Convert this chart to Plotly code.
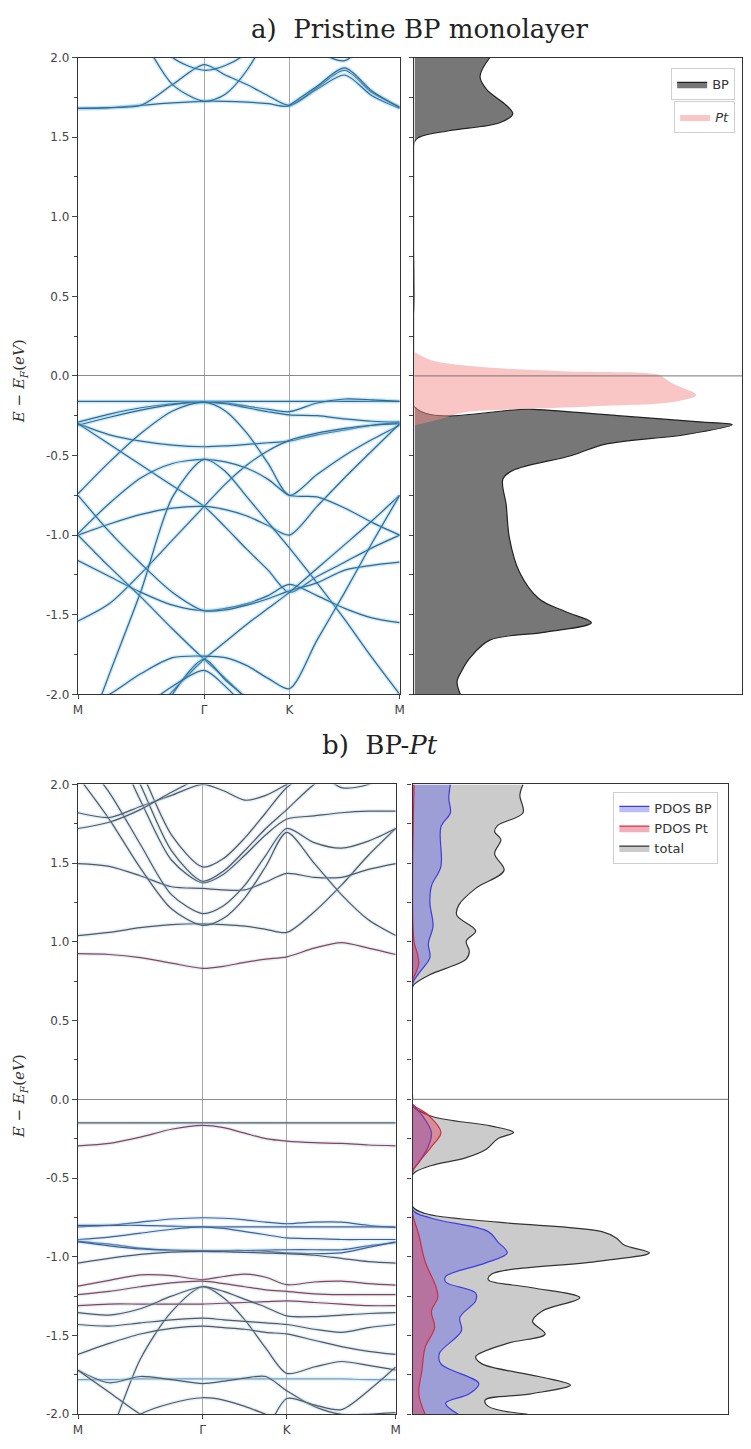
import plotly.graph_objects as go

W, H = 751, 1449

# ---------------- data ----------------
KPTS = [0.0, 0.098, 0.196, 0.294, 0.392, 0.458, 0.525, 0.591, 0.657, 0.743, 0.829, 0.914, 1.0]
K_TICKS = [0.0, 0.392, 0.657, 1.0]
K_LABELS = ["M", "Γ", "K", "M"]
E_TICKS = [2.0, 1.5, 1.0, 0.5, 0.0, -0.5, -1.0, -1.5, -2.0]
E_LABELS = ["2.0", "1.5", "1.0", "0.5", "0.0", "-0.5", "-1.0", "-1.5", "-2.0"]
E_MINOR = [1.75, 1.25, 0.75, 0.25, -0.25, -0.75, -1.25, -1.75]
E_DOS_TICKS = [2.0, 1.75, 1.5, 1.25, 1.0, 0.75, 0.5, 0.25, 0.0, -0.25, -0.5, -0.75, -1.0, -1.25, -1.5, -1.75, -2.0]

N = None
# panel a) pristine BP : conduction bands
BANDS_A_COND = [
    [1.68, 1.685, 1.70, 1.715, 1.725, 1.725, 1.72, 1.71, 1.695, 1.80, 1.89, 1.76, 1.68],
    [1.68, 1.685, 1.70, 1.83, 1.955, 1.89, 1.83, 1.76, 1.70, 1.81, 1.92, 1.78, 1.69],
    [2.6, 2.5, 2.14, 1.83, 1.725, 1.77, 1.92, 2.16, 2.5, 2.6, 2.6, 2.6, 2.6],
    [2.6, 2.5, 2.3, 2.0, 1.92, 1.95, 2.03, 2.2, 2.4, 2.5, 2.5, 2.5, 2.5],
    [N, N, N, N, N, N, N, N, 1.70, 1.82, 1.935, 1.79, 1.685],
    [N, N, N, N, N, N, N, N, 2.3, 2.05, 1.98, 2.15, 2.4],
]
# panel a) pristine BP : valence bands
BANDS_A_VAL = [
    [-0.16, -0.16, -0.16, -0.16, -0.16, -0.16, -0.16, -0.16, -0.16, -0.16, -0.16, -0.16, -0.16],
    [-0.29, -0.24, -0.20, -0.175, -0.165, -0.17, -0.19, -0.21, -0.225, -0.17, -0.145, -0.15, -0.16],
    [-0.31, -0.26, -0.215, -0.18, -0.165, -0.175, -0.20, -0.225, -0.245, -0.25, -0.27, -0.285, -0.29],
    [-0.30, -0.37, -0.41, -0.435, -0.445, -0.44, -0.43, -0.42, -0.41, -0.37, -0.34, -0.31, -0.29],
    [-0.74, -0.54, -0.36, -0.22, -0.165, -0.22, -0.36, -0.55, -0.75, -0.62, -0.50, -0.40, -0.31],
    [-0.30, -0.43, -0.56, -0.69, -0.82, -0.95, -1.09, -1.22, -1.36, -1.26, -1.17, -1.08, -1.0],
    [-1.54, -1.43, -1.24, -1.03, -0.82, -0.68, -0.56, -0.47, -0.405, -0.36, -0.33, -0.31, -0.30],
    [-1.0, -0.93, -0.87, -0.83, -0.82, -0.84, -0.88, -0.94, -1.0, -0.82, -0.64, -0.47, -0.30],
    [-0.99, -0.80, -0.64, -0.55, -0.524, -0.54, -0.58, -0.65, -0.75, -0.76, -0.83, -0.92, -1.0],
    [-2.4, -1.87, -1.35, -0.76, -0.524, -0.60, -0.76, -0.92, -1.08, -1.30, -1.53, -1.77, -2.0],
    [-1.16, -1.26, -1.36, -1.44, -1.475, -1.46, -1.43, -1.38, -1.31, -1.38, -1.46, -1.52, -1.55],
    [-0.75, -0.98, -1.18, -1.36, -1.475, -1.47, -1.44, -1.40, -1.35, -1.30, -1.22, -1.19, -1.17],
    [-1.0, -1.2, -1.39, -1.59, -1.78, -1.90, -2.03, -2.16, -2.3, -2.4, -2.5, -2.5, -2.5],
    [-2.6, -2.4, -2.2, -1.98, -1.78, -1.67, -1.56, -1.46, -1.36, -1.21, -1.06, -0.91, -0.75],
    [-2.1, -2.0, -1.87, -1.77, -1.76, -1.77, -1.82, -1.90, -1.965, -1.66, -1.36, -1.05, -0.75],
    [-3.0, -2.7, -2.45, -2.0, -1.78, -1.91, -2.03, -2.2, -2.4, -2.5, -2.5, -2.5, -2.5],
    [-2.5, -2.3, -2.1, -1.95, -1.85, -1.95, -2.1, -2.3, -2.5, -2.6, -2.3, -2.1, -2.0],
]
# panel b) BP-Pt : conduction bands
BANDS_B_COND = [
    [0.925, 0.92, 0.90, 0.865, 0.832, 0.845, 0.87, 0.89, 0.905, 0.96, 0.995, 0.96, 0.92],
    [1.04, 1.06, 1.09, 1.11, 1.115, 1.11, 1.10, 1.08, 1.06, 1.19, 1.36, 1.55, 1.72],
    [1.497, 1.48, 1.42, 1.35, 1.34, 1.33, 1.33, 1.38, 1.435, 1.41, 1.41, 1.46, 1.497],
    [2.05, 1.78, 1.47, 1.21, 1.105, 1.15, 1.28, 1.48, 1.695, 1.50, 1.30, 1.14, 1.04],
    [2.2, 1.95, 1.62, 1.30, 1.18, 1.23, 1.36, 1.55, 1.72, 1.63, 1.595, 1.64, 1.72],
    [2.5, 2.3, 1.9, 1.52, 1.375, 1.43, 1.55, 1.68, 1.78, 1.80, 1.82, 1.83, 1.83],
    [2.6, 2.4, 2.0, 1.58, 1.385, 1.45, 1.58, 1.72, 1.84, 2.0, 2.1, 2.2, 2.2],
    [2.7, 2.5, 2.1, 1.68, 1.476, 1.53, 1.66, 1.82, 1.98, 2.1, 2.2, 2.2, 2.2],
    [1.82, 1.79, 1.86, 1.93, 2.0, 1.96, 1.90, 1.93, 2.0, 2.1, 2.1, 2.1, 2.1],
    [1.72, 1.76, 1.84, 1.95, 2.05, 2.1, 2.1, 2.1, 2.2, 2.1, 1.98, 2.0, 2.1],
]
# panel b) BP-Pt : valence bands
BANDS_B_VAL = [
    [-0.15, -0.15, -0.15, -0.15, -0.15, -0.15, -0.15, -0.15, -0.15, -0.15, -0.15, -0.15, -0.15],
    [-0.295, -0.28, -0.24, -0.19, -0.165, -0.18, -0.215, -0.25, -0.265, -0.275, -0.28, -0.29, -0.295],
    [-0.81, -0.80, -0.78, -0.76, -0.752, -0.755, -0.765, -0.78, -0.79, -0.78, -0.78, -0.80, -0.815],
    [-0.80, -0.80, -0.80, -0.805, -0.81, -0.81, -0.81, -0.81, -0.81, -0.81, -0.81, -0.81, -0.81],
    [-0.89, -0.875, -0.85, -0.825, -0.81, -0.82, -0.84, -0.86, -0.88, -0.885, -0.89, -0.89, -0.89],
    [-0.90, -0.92, -0.945, -0.96, -0.966, -0.965, -0.96, -0.957, -0.955, -0.955, -0.955, -0.93, -0.91],
    [-0.905, -0.93, -0.95, -0.958, -0.96, -0.96, -0.96, -0.965, -0.975, -0.98, -0.975, -0.94, -0.905],
    [-1.04, -1.01, -0.985, -0.97, -0.965, -0.968, -0.972, -0.976, -0.98, -0.99, -1.01, -1.03, -1.04],
    [-1.186, -1.15, -1.115, -1.12, -1.145, -1.125, -1.11, -1.13, -1.177, -1.16, -1.155, -1.17, -1.18],
    [-1.24, -1.22, -1.19, -1.165, -1.155, -1.17, -1.19, -1.21, -1.22, -1.235, -1.24, -1.24, -1.24],
    [-2.6, -2.15, -1.65, -1.35, -1.19, -1.26, -1.40, -1.58, -1.74, -1.70, -1.665, -1.69, -1.72],
    [-1.31, -1.30, -1.30, -1.30, -1.30, -1.295, -1.29, -1.285, -1.28, -1.29, -1.30, -1.31, -1.31],
    [-1.355, -1.37, -1.33, -1.25, -1.19, -1.22, -1.27, -1.32, -1.375, -1.38, -1.37, -1.36, -1.355],
    [-1.43, -1.44, -1.42, -1.40, -1.39, -1.40, -1.41, -1.42, -1.43, -1.46, -1.48, -1.45, -1.43],
    [-1.62, -1.55, -1.49, -1.455, -1.44, -1.45, -1.46, -1.48, -1.49, -1.53, -1.57, -1.60, -1.62],
    [-1.78, -1.78, -1.775, -1.775, -1.775, -1.775, -1.775, -1.775, -1.775, -1.775, -1.775, -1.78, -1.78],
    [-1.72, -1.80, -1.76, -1.78, -1.805, -1.79, -1.77, -1.76, -1.85, -1.95, -2.0, -2.0, -1.99],
    [-1.72, -1.86, -2.0, -2.1, -2.2, -2.2, -2.2, -2.1, -1.90, -1.94, -1.97, -1.85, -1.70],
    [-2.3, -2.15, -2.0, -1.93, -1.895, -1.91, -1.95, -2.0, -2.05, -2.1, -2.1, -2.05, -2.0],
]
# colour tag per panel-b band (g = grey, r = Pt-like, b = BP-like)
TAGS_B_COND = ["r", "g", "g", "g", "g", "g", "g", "g", "g", "g"]
TAGS_B_VAL = ["g", "r", "b", "b", "b", "b", "b", "g", "r", "r", "g", "r", "g", "g", "g", "lb", "g", "g", "g"]

# DOS panel a)
E_A_BP = [2.0, 1.88, 1.80, 1.70, 1.645, 1.59, 1.54, 1.50, 1.47, 0.5, -0.195, -0.21, -0.25, -0.29, -0.306,
          -0.368, -0.43, -0.50, -0.594, -0.648, -0.81, -1.02, -1.23, -1.40, -1.48, -1.55, -1.61, -1.66,
          -1.77, -1.85, -1.92, -2.0]
D_A_BP = [0.23, 0.20, 0.22, 0.28, 0.30, 0.26, 0.105, 0.015, 0.0, 0.0, 0.0, 0.36, 0.62, 0.88, 0.97,
          0.83, 0.58, 0.48, 0.30, 0.27, 0.28, 0.29, 0.32, 0.38, 0.46, 0.54, 0.40, 0.23,
          0.17, 0.145, 0.13, 0.14]
E_A_PT = [0.15, 0.10, 0.06, 0.03, 0.01, -0.01, -0.05, -0.12, -0.16, -0.19, -0.21, -0.23, -0.27, -0.31]
D_A_PT = [0.0, 0.05, 0.18, 0.45, 0.74, 0.76, 0.79, 0.86, 0.80, 0.55, 0.30, 0.15, 0.08, 0.0]

# DOS panel b)
E_B_TOT = [2.0, 1.93, 1.82, 1.74, 1.70, 1.65, 1.56, 1.455, 1.34, 1.235, 1.17, 1.07, 1.005, 0.94, 0.89,
           0.79, 0.73, 0.71, 0.0, -0.04, -0.107, -0.17, -0.21, -0.25, -0.315, -0.37, -0.42, -0.46, -0.48,
           -0.68, -0.725, -0.78, -0.84, -0.88, -0.925, -0.975, -1.03, -1.11, -1.145, -1.195, -1.26,
           -1.345, -1.41, -1.49, -1.55, -1.635, -1.68, -1.76, -1.815, -1.87, -1.91, -1.95, -2.0]
D_B_TOT = [0.35, 0.34, 0.35, 0.27, 0.26, 0.28, 0.26, 0.29, 0.20, 0.147, 0.14, 0.20, 0.17, 0.18, 0.17,
           0.053, 0.005, 0.0, 0.0, 0.0, 0.06, 0.25, 0.32, 0.27, 0.235, 0.17, 0.06, 0.01, 0.0,
           0.0, 0.04, 0.27, 0.60, 0.645, 0.67, 0.75, 0.58, 0.25, 0.24, 0.375, 0.53,
           0.41, 0.38, 0.42, 0.30, 0.20, 0.22, 0.40, 0.50, 0.375, 0.23, 0.24, 0.365]
E_B_BP = [2.0, 1.91, 1.82, 1.73, 1.48, 1.355, 1.25, 1.10, 0.99, 0.90, 0.80, 0.73, 0.0, -0.03, -0.10,
          -0.21, -0.30, -0.40, -0.46, -0.70, -0.755, -0.84, -0.905, -0.975, -1.04, -1.125, -1.16,
          -1.23, -1.28, -1.385, -1.47, -1.615, -1.68, -1.805, -1.87, -1.93, -2.0]
D_B_BP = [0.12, 0.115, 0.12, 0.09, 0.09, 0.06, 0.055, 0.065, 0.05, 0.055, 0.02, 0.0, 0.0, 0.0, 0.03,
          0.06, 0.05, 0.02, 0.0, 0.0, 0.06, 0.24, 0.27, 0.30, 0.23, 0.105, 0.105,
          0.20, 0.20, 0.15, 0.155, 0.085, 0.09, 0.21, 0.18, 0.105, 0.145]
E_B_PT = [2.0, 1.0, 0.93, 0.86, 0.80, 0.75, 0.0, -0.03, -0.10, -0.21, -0.30, -0.40, -0.46, -0.72,
          -0.86, -1.03, -1.195, -1.26, -1.345, -1.45, -1.575, -1.72, -1.87, -2.0]
D_B_PT = [0.005, 0.005, 0.015, 0.02, 0.01, 0.0, 0.0, 0.0, 0.05, 0.09, 0.06, 0.02, 0.0, 0.0,
          0.02, 0.04, 0.075, 0.08, 0.06, 0.07, 0.04, 0.03, 0.02, 0.04]

# ---------------- figure ----------------
fig = go.Figure()

def px_x(p):
    return p / W

def px_y(p):
    return 1 - p / H

def add_band(vals, xa, ya, color, halo):
    fig.add_trace(go.Scatter(x=KPTS, y=vals, mode="lines", xaxis=xa, yaxis=ya,
                             line=dict(color=halo, width=4, shape="spline", smoothing=0.8),
                             showlegend=False, hoverinfo="skip"))
    fig.add_trace(go.Scatter(x=KPTS, y=vals, mode="lines", xaxis=xa, yaxis=ya,
                             line=dict(color=color, width=1.2, shape="spline", smoothing=0.8),
                             showlegend=False, hoverinfo="skip"))

BLUE_A = "rgb(45,105,145)"
HALO_A = "rgba(120,195,235,0.35)"
for b in BANDS_A_COND + BANDS_A_VAL:
    add_band(b, "x", "y", BLUE_A, HALO_A)

TAG_COL = {"g": "rgb(85,85,95)", "r": "rgb(140,65,85)", "b": "rgb(65,95,150)", "lb": "rgb(110,160,195)"}
HALO_B = "rgba(160,210,235,0.3)"
for b, t in zip(BANDS_B_COND + BANDS_B_VAL, TAGS_B_COND + TAGS_B_VAL):
    add_band(b, "x3", "y3", TAG_COL[t], HALO_B)

SM = 1.0
# DOS a)
fig.add_trace(go.Scatter(x=D_A_BP, y=E_A_BP, mode="lines", fill="tozerox", xaxis="x2", yaxis="y2",
                         line=dict(color="#222", width=1.2, shape="spline", smoothing=SM),
                         fillcolor="rgba(55,55,55,0.68)", name="BP", legend="legend2"))
fig.add_trace(go.Scatter(x=D_A_PT, y=E_A_PT, mode="lines", fill="tozerox", xaxis="x2", yaxis="y2",
                         line=dict(color="rgba(245,140,140,0.0)", width=0.5, shape="spline", smoothing=SM),
                         fillcolor="rgba(245,140,140,0.5)", name="<i>Pt</i>", legend="legend3"))
# DOS b)
fig.add_trace(go.Scatter(x=D_B_TOT, y=E_B_TOT, mode="lines", fill="tozerox", xaxis="x4", yaxis="y4",
                         line=dict(color="#333", width=1.2, shape="spline", smoothing=SM),
                         fillcolor="rgba(185,185,185,0.75)", name="total", legend="legend",
                         legendrank=3))
fig.add_trace(go.Scatter(x=D_B_BP, y=E_B_BP, mode="lines", fill="tozerox", xaxis="x4", yaxis="y4",
                         line=dict(color="rgb(60,60,230)", width=1.2, shape="spline", smoothing=SM),
                         fillcolor="rgba(90,90,230,0.4)", name="PDOS BP", legend="legend",
                         legendrank=1))
fig.add_trace(go.Scatter(x=D_B_PT, y=E_B_PT, mode="lines", fill="tozerox", xaxis="x4", yaxis="y4",
                         line=dict(color="rgb(220,40,60)", width=1.2, shape="spline", smoothing=SM),
                         fillcolor="rgba(220,50,80,0.4)", name="PDOS Pt", legend="legend",
                         legendrank=2))

TICKFONT = dict(family="DejaVu Sans", size=12, color="#444")

def band_x(domain, anchor):
    return dict(domain=domain, anchor=anchor, range=[0, 1], tickvals=K_TICKS, ticktext=K_LABELS,
                ticks="outside", ticklen=4, tickcolor="#444", showgrid=True, gridcolor="#a8a8a8",
                gridwidth=1, showline=True, linecolor="#333", linewidth=1.3, mirror=True,
                zeroline=False, tickfont=TICKFONT)

def band_y(domain, anchor):
    return dict(domain=domain, anchor=anchor, range=[-2, 2], tickvals=E_TICKS, ticktext=E_LABELS,
                ticks="outside", ticklen=5, tickcolor="#444", showgrid=False, zeroline=True,
                zerolinecolor="#8a8a8a", zerolinewidth=1, showline=True, linecolor="#333",
                linewidth=1.3, mirror=True, tickfont=TICKFONT,
                minor=dict(tickvals=E_MINOR, ticks="outside", ticklen=3, tickcolor="#444"))

def dos_x(domain, anchor):
    return dict(domain=domain, anchor=anchor, range=[0, 1], showticklabels=False, ticks="",
                showgrid=False, zeroline=False, showline=True, linecolor="#333", linewidth=1.3,
                mirror=True)

def dos_y(domain, anchor):
    return dict(domain=domain, anchor=anchor, range=[-2, 2], tickvals=E_DOS_TICKS, ticks="outside",
                ticklen=4, tickcolor="#444", showticklabels=False, showgrid=False, zeroline=False,
                showline=True, linecolor="#333", linewidth=1.3, mirror=True)

YA = [px_y(694), px_y(51)]
YB = [px_y(1421), px_y(785)]

legend_common = dict(bgcolor="white", bordercolor="#cfcfcf", borderwidth=1,
                     font=dict(family="DejaVu Sans", size=13, color="#333"),
                     xanchor="right", yanchor="top", tracegroupgap=2)

fig.update_layout(
    width=W, height=H, margin=dict(l=0, r=0, t=0, b=0),
    plot_bgcolor="white", paper_bgcolor="white", hovermode=False,
    xaxis=band_x([px_x(74), px_x(400)], "y"),
    yaxis=band_y(YA, "x"),
    xaxis2=dos_x([px_x(415), px_x(747)], "y2"),
    yaxis2=dos_y(YA, "x2"),
    xaxis3=band_x([px_x(74), px_x(396)], "y3"),
    yaxis3=band_y(YB, "x3"),
    xaxis4=dos_x([px_x(413), px_x(733)], "y4"),
    yaxis4=dos_y(YB, "x4"),
    legend=dict(x=px_x(723), y=px_y(793), traceorder="normal", **legend_common),
    legend2=dict(x=px_x(740), y=px_y(62), **legend_common),
    legend3=dict(x=px_x(740), y=px_y(95), **legend_common),
)

# Fermi level lines across DOS panels (drawn above fills)
for xr, yr in (("x2", "y2"), ("x4", "y4")):
    fig.add_shape(type="line", xref=xr + " domain", yref=yr, x0=0, x1=1, y0=0, y1=0,
                  line=dict(color="#777", width=1), layer="above")

SERIF = "DejaVu Serif"
fig.add_annotation(text="a)\u00a0 Pristine BP monolayer", x=px_x(420), y=px_y(22), xref="paper",
                   yref="paper", showarrow=False, xanchor="center", yanchor="middle",
                   font=dict(family=SERIF, size=26, color="#222"))
fig.add_annotation(text="b)\u00a0 BP-<i>Pt</i>", x=px_x(380), y=px_y(745), xref="paper",
                   yref="paper", showarrow=False, xanchor="center", yanchor="middle",
                   font=dict(family=SERIF, size=26, color="#222"))
YLAB = "<i>E</i> − <i>E<sub>F</sub></i>(<i>eV</i>)"
for yc in (378, 1100):
    fig.add_annotation(text=YLAB, x=px_x(15), y=px_y(yc), xref="paper", yref="paper",
                       showarrow=False, textangle=-90, xanchor="center", yanchor="middle",
                       font=dict(family=SERIF, size=15, color="#333"))

fig.write_html("out.html")
